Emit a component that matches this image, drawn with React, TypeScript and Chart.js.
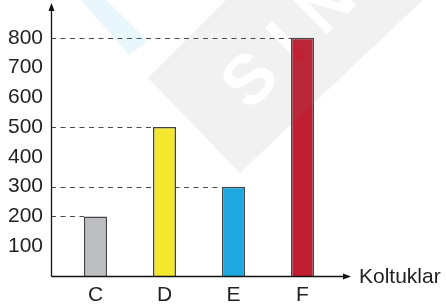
import React, { useEffect, useRef } from "react";
import { Chart, registerables } from "chart.js";

Chart.register(...registerables);

const categories = ["C", "D", "E", "F"];
const values = [200, 500, 300, 800];
const barColors = ["#bdbec0", "#f3e82e", "#1fa8e0", "#c21f33"];
const yTicks = [100, 200, 300, 400, 500, 600, 700, 800];
const axisTitle = "Koltuklar";
const watermarkLetters = ["S", "I", "N"];

const FONT = "'Liberation Sans', Arial, sans-serif";

const decorPlugin = {
  id: "decor",
  beforeDatasetsDraw(chart: any) {
    const { ctx, scales } = chart;
    const y = scales.y;
    const axisX = 51;
    ctx.save();
    ctx.strokeStyle = "#4a4a4a";
    ctx.lineWidth = 1;
    ctx.setLineDash([5, 4.5]);
    const meta = chart.getDatasetMeta(0);
    meta.data.forEach((bar: any, i: number) => {
      const py = Math.round(y.getPixelForValue(values[i])) + 0.5;
      const left = bar.x - bar.width / 2;
      ctx.beginPath();
      ctx.moveTo(axisX, py);
      ctx.lineTo(left, py);
      ctx.stroke();
    });
    ctx.restore();
  },
  afterDatasetsDraw(chart: any) {
    const { ctx } = chart;
    const w = chart.width;
    const h = chart.height;
    const off = document.createElement("canvas");
    off.width = w;
    off.height = h;
    const o = off.getContext("2d") as CanvasRenderingContext2D;
    o.fillStyle = "rgba(120,120,120,0.1)";
    o.beginPath();
    o.moveTo(148, 78);
    o.lineTo(228, -2);
    o.lineTo(425, -2);
    o.lineTo(240, 173);
    o.closePath();
    o.fill();
    o.globalCompositeOperation = "destination-out";
    o.fillStyle = "#000";
    o.font = `bold 70px ${FONT}`;
    o.textAlign = "center";
    o.textBaseline = "middle";
    const pos = [
      [252, 82],
      [289, 45],
      [328, 6],
    ];
    watermarkLetters.forEach((ch, i) => {
      o.save();
      o.translate(pos[i][0], pos[i][1]);
      o.rotate(-Math.PI / 4);
      o.fillText(ch, 0, 0);
      o.restore();
    });
    o.globalCompositeOperation = "source-over";
    o.fillStyle = "rgba(40,165,225,0.1)";
    o.beginPath();
    o.moveTo(79, -2);
    o.lineTo(104, -2);
    o.lineTo(148, 41);
    o.lineTo(129, 55);
    o.closePath();
    o.fill();
    ctx.save();
    ctx.setTransform(1, 0, 0, 1, 0, 0);
    ctx.drawImage(off, 0, 0);
    ctx.restore();
  },
  afterDraw(chart: any) {
    const { ctx, scales } = chart;
    const y = scales.y;
    const axisX = 51.5;
    const baseY = Math.round(y.getPixelForValue(0)) + 0.5;
    ctx.save();
    ctx.strokeStyle = "#111";
    ctx.fillStyle = "#111";
    ctx.lineWidth = 1.3;
    ctx.setLineDash([]);
    ctx.beginPath();
    ctx.moveTo(axisX, baseY);
    ctx.lineTo(axisX, 8);
    ctx.stroke();
    ctx.beginPath();
    ctx.moveTo(axisX, 3);
    ctx.lineTo(axisX - 3, 11);
    ctx.lineTo(axisX + 3, 11);
    ctx.closePath();
    ctx.fill();
    ctx.beginPath();
    ctx.moveTo(axisX, baseY);
    ctx.lineTo(346, baseY);
    ctx.stroke();
    ctx.beginPath();
    ctx.moveTo(351, baseY);
    ctx.lineTo(343, baseY - 3);
    ctx.lineTo(343, baseY + 3);
    ctx.closePath();
    ctx.fill();
    ctx.fillStyle = "#231f20";
    ctx.font = `21px ${FONT}`;
    ctx.textAlign = "left";
    ctx.textBaseline = "middle";
    ctx.fillText(axisTitle, 359, baseY + 1);
    ctx.restore();
  },
};

export default function App() {
  const ref = useRef<HTMLCanvasElement>(null);
  useEffect(() => {
    if (!ref.current) return;
    const chart = new Chart(ref.current, {
      type: "bar",
      data: {
        labels: categories,
        datasets: [
          {
            data: values,
            backgroundColor: barColors,
            borderColor: "#444446",
            borderWidth: 1.5,
            barPercentage: 1,
            categoryPercentage: 0.333,
          },
        ],
      },
      options: {
        animation: false,
        responsive: true,
        maintainAspectRatio: false,
        layout: { padding: { left: 0, right: 109, top: 8, bottom: 0 } },
        plugins: { legend: { display: false }, tooltip: { enabled: false } },
        scales: {
          x: {
            grid: { display: false, drawTicks: false },
            border: { display: false },
            ticks: {
              color: "#231f20",
              font: { family: FONT, size: 21 },
              padding: 7,
              maxRotation: 0,
            },
            afterFit(scale: any) {
              scale.height = 29;
              scale.paddingLeft = 0;
              scale.paddingRight = 0;
            },
          },
          y: {
            min: 0,
            max: 900,
            grid: { display: false, drawTicks: false },
            border: { display: false },
            afterBuildTicks(scale: any) {
              scale.ticks = yTicks.map((v) => ({ value: v }));
            },
            ticks: {
              color: "#231f20",
              font: { family: FONT, size: 21 },
              padding: 18,
            },
            afterFit(scale: any) {
              scale.width = 61;
              scale.paddingTop = 0;
              scale.paddingBottom = 0;
            },
          },
        },
      },
      plugins: [decorPlugin],
    });
    return () => chart.destroy();
  }, []);
  return (
    <div style={{ position: "fixed", left: 0, top: 0, width: 446, height: 305, background: "#fff" }}>
      <canvas ref={ref} />
    </div>
  );
}
